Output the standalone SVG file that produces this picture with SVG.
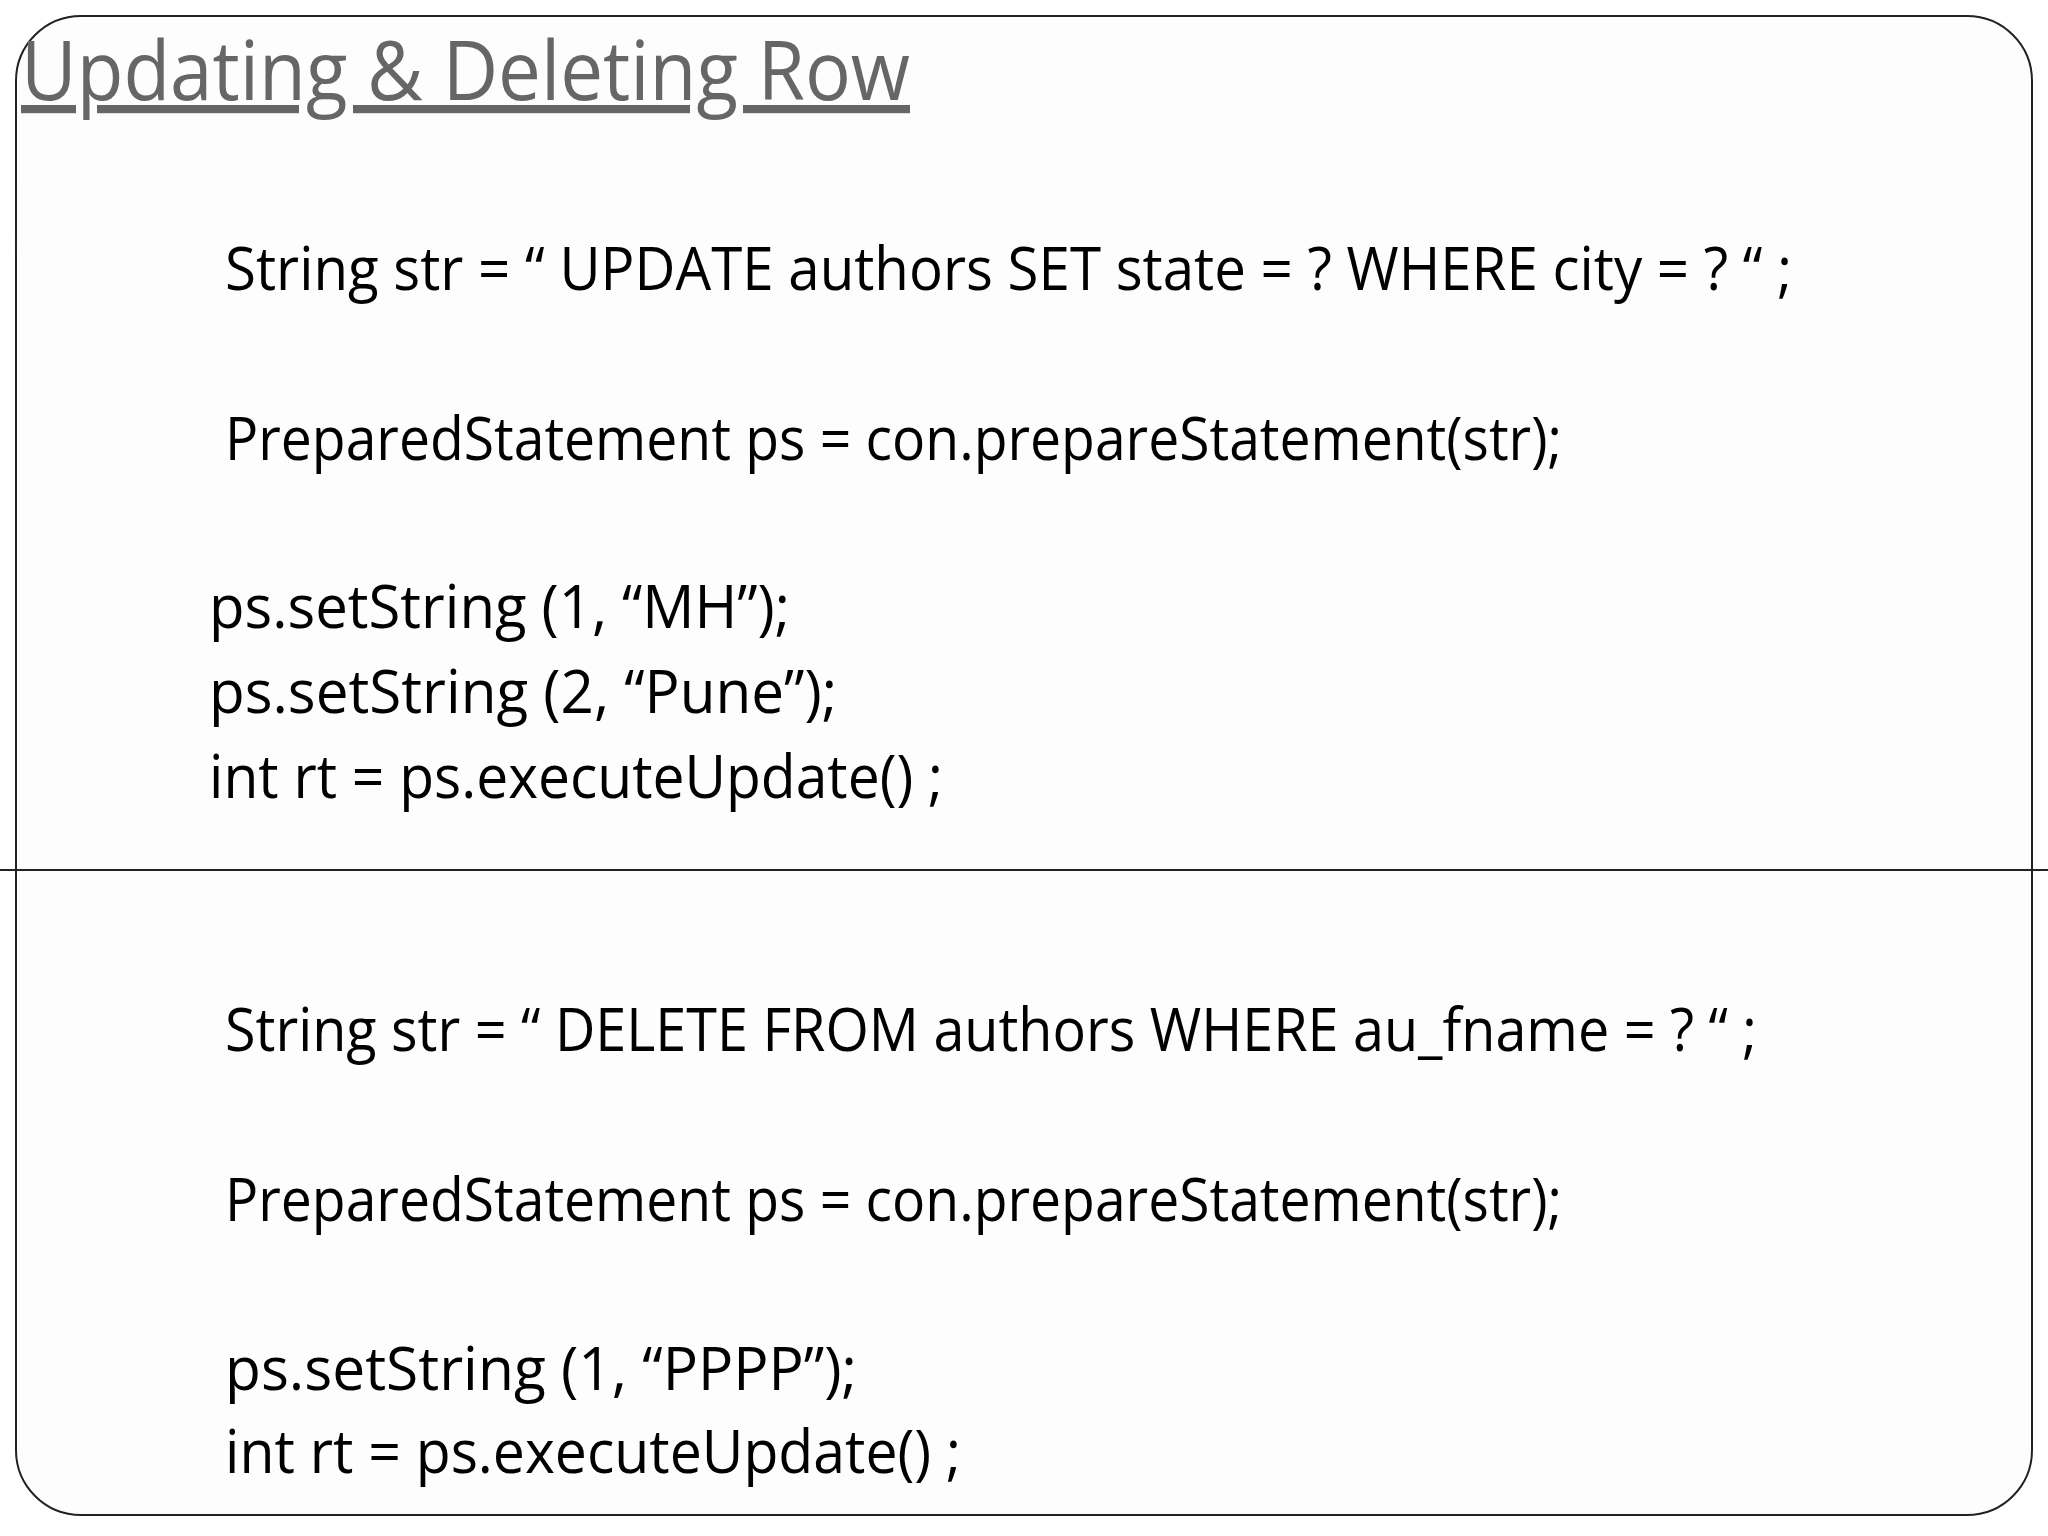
<svg xmlns="http://www.w3.org/2000/svg" width="2048" height="1536" viewBox="0 0 2048 1536">
<style>
.code{font-family:"Open Sans","DejaVu Sans",sans-serif;font-size:60px;fill:#000}
.title{font-family:"Open Sans","DejaVu Sans",sans-serif;font-size:82px;fill:#666;text-decoration:underline}
</style>
<rect width="2048" height="1536" fill="#fff"/>
<g id="frame">
<rect x="16" y="16" width="2016" height="1499" rx="65" ry="65" fill="#fdfdfd" stroke="#222" stroke-width="2"/>
<line x1="0" y1="870" x2="2048" y2="870" stroke="#222" stroke-width="2"/>
</g>
<g id="title"><text class="title" x="21" y="100" textLength="889" lengthAdjust="spacingAndGlyphs">Updating &amp; Deleting Row</text></g>
<g id="update">
<text class="code" x="225" y="290" textLength="1567" lengthAdjust="spacingAndGlyphs">String str = “ UPDATE authors SET state = ? WHERE city = ? “ ;</text>
<text class="code" x="225" y="460" textLength="1337" lengthAdjust="spacingAndGlyphs">PreparedStatement ps = con.prepareStatement(str);</text>
<text class="code" x="209" y="628" textLength="581" lengthAdjust="spacingAndGlyphs">ps.setString (1, “MH”);</text>
<text class="code" x="209" y="713" textLength="628" lengthAdjust="spacingAndGlyphs">ps.setString (2, “Pune”);</text>
<text class="code" x="209" y="798" textLength="734" lengthAdjust="spacingAndGlyphs">int rt = ps.executeUpdate() ;</text>
</g>
<g id="delete">
<text class="code" x="225" y="1051" textLength="1532" lengthAdjust="spacingAndGlyphs">String str = “ DELETE FROM authors WHERE au_fname = ? “ ;</text>
<text class="code" x="225" y="1221" textLength="1337" lengthAdjust="spacingAndGlyphs">PreparedStatement ps = con.prepareStatement(str);</text>
<text class="code" x="225" y="1390" textLength="632" lengthAdjust="spacingAndGlyphs">ps.setString (1, “PPPP”);</text>
<text class="code" x="225" y="1473" textLength="736" lengthAdjust="spacingAndGlyphs">int rt = ps.executeUpdate() ;</text>
</g>
</svg>
